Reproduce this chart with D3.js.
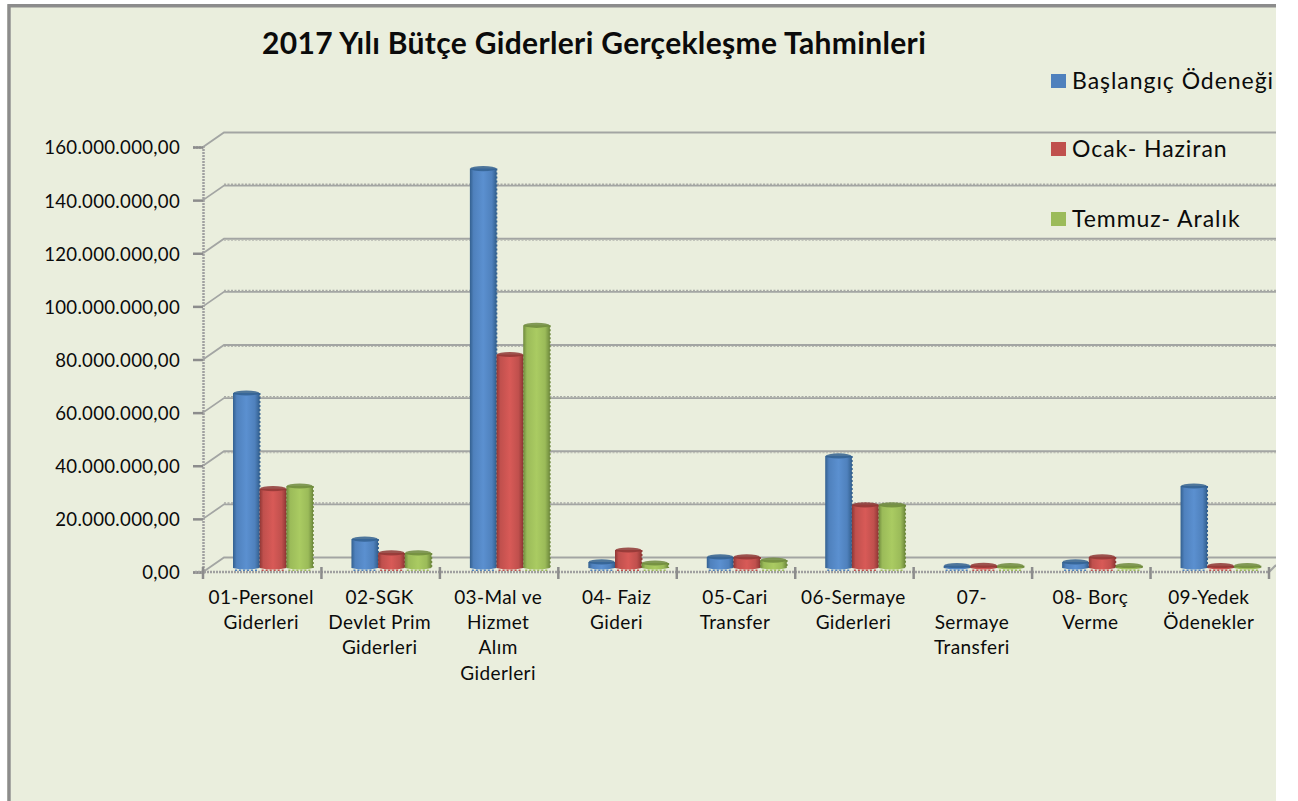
<!DOCTYPE html>
<html><head><meta charset="utf-8">
<script src="https://cdn.jsdelivr.net/npm/d3@7/dist/d3.min.js"></script>
<style>html,body{margin:0;padding:0;background:#fff}svg{display:block}text{font-family:Lato,"Open Sans",sans-serif;fill:#0b0b0b}</style>
</head><body><svg id="c" width="1298" height="801"></svg>
<script>
const categories=[["01-Personel","Giderleri"],["02-SGK","Devlet Prim","Giderleri"],["03-Mal ve","Hizmet","Alım","Giderleri"],["04- Faiz","Gideri"],["05-Cari","Transfer"],["06-Sermaye","Giderleri"],["07-","Sermaye","Transferi"],["08- Borç","Verme"],["09-Yedek","Ödenekler"]];
const seriesNames=["Başlangıç Ödeneği","Ocak- Haziran","Temmuz- Aralık"];
const baslangic=[65.5,10.5,150,1.9,3.8,41.8,0.5,1.9,30.5];
const ocakHaziran=[29.5,5.3,80,6.4,3.8,23.4,0.6,3.8,0.5];
const temmuzAralik=[30.5,5.3,91,1.5,2.6,23.4,0.5,0.5,0.5];
const seriesValues=[baslangic,ocakHaziran,temmuzAralik];
const tickValues=[0,20,40,60,80,100,120,140,160];
const tickLabels=["0,00","20.000.000,00","40.000.000,00","60.000.000,00","80.000.000,00","100.000.000,00","120.000.000,00","140.000.000,00","160.000.000,00"];
const colors=["#4f81bd","#c0504d","#9bbb59"];
const lightC=["#5b90d0","#d85a57","#aacb62"];
const darkC=["#33608f","#8f3735","#6f8a3d"];

const svg=d3.select("#c");
const defs=svg.append("defs");
colors.forEach((c,i)=>{
  const g=defs.append("linearGradient").attr("id","g"+i);
  [[0,darkC[i]],[.14,colors[i]],[.5,lightC[i]],[.82,colors[i]],[1,darkC[i]]].forEach(s=>g.append("stop").attr("offset",s[0]).attr("stop-color",s[1]));
});
defs.append("clipPath").attr("id","plot").append("rect").attr("x",0).attr("y",0).attr("width",1276).attr("height",801);
const root=svg.append("g").attr("clip-path","url(#plot)");
root.append("rect").attr("x",7).attr("y",5).attr("width",1290).attr("height",800).attr("fill","#eaeedd");
root.append("path").attr("d","M9,801V5.7H1276").attr("fill","none").attr("stroke","#8c8c8c").attr("stroke-width",3.4);

const y=d3.scaleLinear().domain([0,160]).range([572,147]);
const x=d3.scaleBand().domain(d3.range(9)).range([203,1269]).padding(0);
const depthX=21,depthY=-14.5;
const grid="#a3a5a3";

const g=root.append("g");
tickValues.forEach(t=>{
  const yy=y(t);
  g.append("path").attr("d",`M203,${yy}L${203+depthX},${yy+depthY}H1276`).attr("fill","none").attr("stroke",grid).attr("stroke-width",1.8);
  if(t>0&&t%40!==0)g.append("path").attr("d",`M${203+depthX},${yy+depthY-1.5}H1276`).attr("fill","none").attr("stroke","#a9aba6").attr("stroke-width",1.5).attr("stroke-dasharray","2 1.5");
  if(t>0&&t%40===0&&t<160)g.append("path").attr("d",`M${203+depthX},${yy+depthY+1.5}H1276`).attr("fill","none").attr("stroke","#b5b7b0").attr("stroke-width",1.2).attr("stroke-dasharray","2 1.5");
});
g.append("path").attr("d",`M1269,572L1276,565`).attr("stroke",grid).attr("stroke-width",2).attr("fill","none");

const yAxis=d3.axisLeft(y).tickValues(tickValues).tickFormat((d,i)=>tickLabels[i]).tickSize(10).tickPadding(13);
const ya=root.append("g").attr("transform","translate(203,0)").call(yAxis);
ya.select(".domain").attr("stroke","#a0a0a0").attr("stroke-width",2.5).attr("stroke-dasharray","2 1");
ya.selectAll(".tick line").attr("stroke","#8c8c8c").attr("stroke-width",2.5);
ya.selectAll(".tick text").attr("font-size",18.6).attr("letter-spacing",".3").attr("y",1).style("font-family","Lato");

root.append("line").attr("x1",195).attr("x2",1269).attr("y1",572).attr("y2",572).attr("stroke","#a0a0a0").attr("stroke-width",2.5).attr("stroke-dasharray","2 1");
d3.range(10).forEach(i=>{
  const xx=203+i*x.bandwidth();
  root.append("line").attr("x1",xx).attr("x2",xx).attr("y1",567).attr("y2",579).attr("stroke","#8c8c8c").attr("stroke-width",2.5);
});

const barY=d3.scaleLinear().domain([0,160]).range([567,142]);
const sub=d3.scaleBand().domain([0,1,2]).range([30,110]).padding(0);
const bars=root.append("g");
seriesValues.forEach((vals,s)=>{
  const gs=bars.append("g");
  vals.forEach((v,i)=>{
    const bx=x(i)+sub(s),w=sub.bandwidth(),top=barY(v),bot=barY(0)+1;
    const rx=w/2;
    gs.append("path")
      .attr("d",`M${bx},${top}V${bot}Q${bx+rx},${bot+3} ${bx+w},${bot}V${top}Z`)
      .attr("fill",`url(#g${s})`);
    gs.append("ellipse").attr("cx",bx+rx).attr("cy",top).attr("rx",rx-.5).attr("ry",2.6).attr("fill",darkC[s]).attr("fill-opacity",.85);
    gs.append("path").attr("d",`M${bx+w},${top}V${bot}`).attr("stroke",darkC[s]).attr("stroke-width",1.6).attr("stroke-dasharray","2 2").attr("fill","none");
    gs.append("path").attr("d",`M${bx+2},${bot+2.2}H${bx+w-2}`).attr("stroke",colors[s]).attr("stroke-width",1.4).attr("stroke-dasharray","2 2").attr("fill","none");
  });
});

const cl=root.append("g").attr("font-size",19).attr("text-anchor","middle");
categories.forEach((lines,i)=>{
  const t=cl.append("text").attr("letter-spacing",".4");
  lines.forEach((l,j)=>t.append("tspan").attr("x",x(i)+x.bandwidth()/2-1).attr("y",604+j*25.2).text(l));
});

root.append("text").attr("x",262).attr("y",54).attr("font-size",30).attr("font-weight",700).attr("letter-spacing",".33").text("2017 Yılı Bütçe Giderleri Gerçekleşme Tahminleri");

const ly=[81,149,219];
const lg=root.append("g");
seriesNames.forEach((n,i)=>{
  lg.append("rect").attr("x",1051).attr("y",ly[i]-7).attr("width",15).attr("height",14).attr("fill",colors[i]);
  lg.append("text").attr("x",1072).attr("y",ly[i]+7.5).attr("font-size",23).attr("letter-spacing",.95).text(n);
});
</script></body></html>
